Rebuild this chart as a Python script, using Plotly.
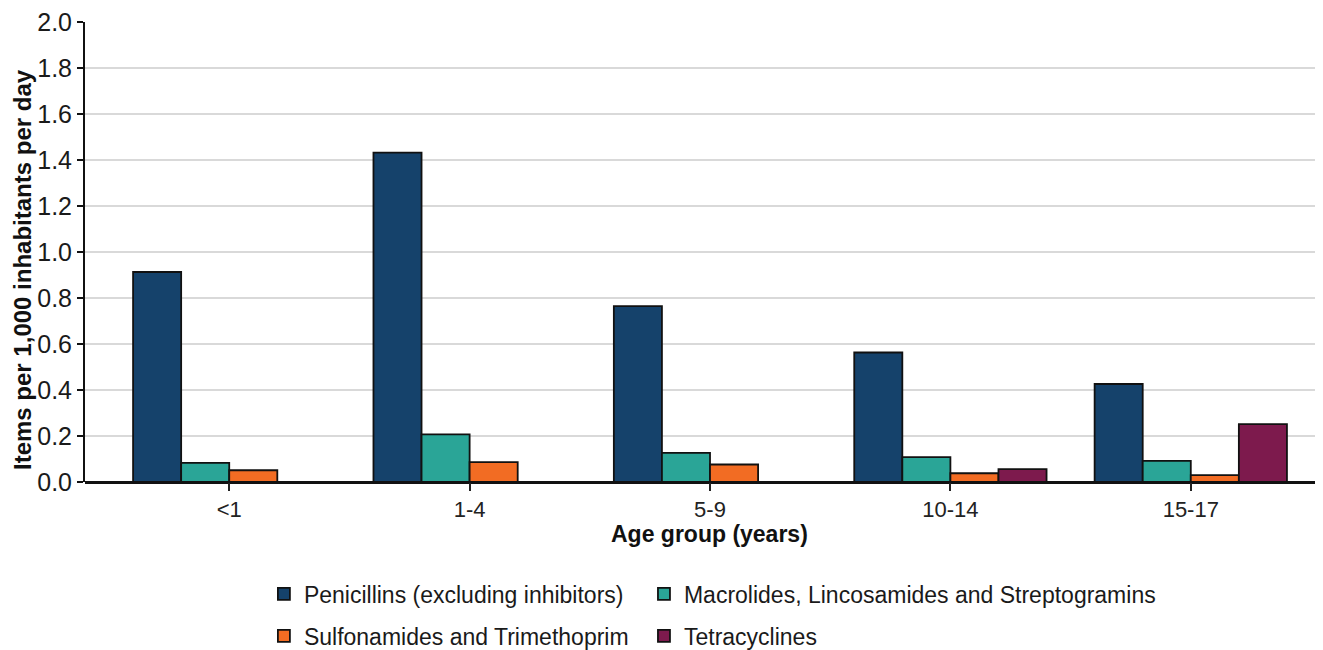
import plotly.graph_objects as go

categories = ["<1", "1-4", "5-9", "10-14", "15-17"]
series_names = [
    "Penicillins (excluding inhibitors)",
    "Macrolides, Lincosamides and Streptogramins",
    "Sulfonamides and Trimethoprim",
    "Tetracyclines",
]
penicillins = [0.913, 1.432, 0.765, 0.563, 0.426]
macrolides = [0.083, 0.207, 0.127, 0.108, 0.092]
sulfonamides = [0.051, 0.086, 0.076, 0.038, 0.030]
tetracyclines = [0.0, 0.0, 0.0, 0.056, 0.252]
y_ticks = [0.0, 0.2, 0.4, 0.6, 0.8, 1.0, 1.2, 1.4, 1.6, 1.8, 2.0]

colors = ["#15426b", "#2aa597", "#f26c23", "#7d1a4d"]
values = [penicillins, macrolides, sulfonamides, tetracyclines]
legend_ids = ["legend", "legend2", "legend3", "legend4"]

fig = go.Figure()
for name, vals, col, lg in zip(series_names, values, colors, legend_ids):
    fig.add_trace(go.Bar(
        x=categories, y=vals, name=name, legend=lg,
        marker=dict(color=col, line=dict(color="#111111", width=1.8)),
    ))

font_family = "Liberation Sans, Arial, sans-serif"
legend_common = dict(
    orientation="h", xanchor="left", yanchor="top",
    font=dict(size=23, family=font_family, color="#1a1a1a"),
    bgcolor="rgba(0,0,0,0)",
)
col1_x, col2_x = 0.1445, 0.4515
row1_y, row2_y = -0.1965, -0.2877
# page body has an 8px margin, compensate so the chart lands where the reference has it
fig.update_layout(
    width=1315, height=642,
    margin=dict(l=77, r=0, t=14, b=167.5, autoexpand=False),
    paper_bgcolor="white", plot_bgcolor="white",
    barmode="group", bargap=0.2, bargroupgap=0,
    font=dict(family=font_family, color="#1a1a1a"),
    showlegend=True,
    legend=dict(x=col1_x, y=row1_y, **legend_common),
    legend2=dict(x=col2_x, y=row1_y, **legend_common),
    legend3=dict(x=col1_x, y=row2_y, **legend_common),
    legend4=dict(x=col2_x, y=row2_y, **legend_common),
    xaxis=dict(
        type="category", range=[-0.6, 4.55], automargin=False,
        showline=False, ticks="outside", ticklen=8, tickwidth=1.5, tickcolor="#222",
        tickfont=dict(size=22, family=font_family, color="#222"),
        showgrid=False,
    ),
    yaxis=dict(
        range=[0, 2.0], tickvals=y_ticks, tickformat=".1f", automargin=False,
        ticklabeloverflow="allow",
        showgrid=True, gridcolor="#d9d9d9", gridwidth=2,
        showline=True, linecolor="#111", linewidth=2,
        ticks="outside", ticklen=6, tickwidth=1.5, tickcolor="#111",
        tickfont=dict(size=25, family=font_family, color="#1a1a1a"),
        zeroline=True, zerolinecolor="#111", zerolinewidth=2.5,
    ),
    annotations=[
        dict(text="<b>Age group (years)</b>", xref="paper", yref="paper",
             x=0.5048, y=-0.114, xanchor="center", yanchor="middle", showarrow=False,
             font=dict(size=23, family=font_family, color="#111")),
        dict(text="<b>Items per 1,000 inhabitants per day</b>", xref="paper", yref="paper",
             x=-0.0509, y=0.463, xanchor="center", yanchor="middle", showarrow=False,
             textangle=-90, font=dict(size=24, family=font_family, color="#111")),
    ],
)

fig.write_html("out.html")
